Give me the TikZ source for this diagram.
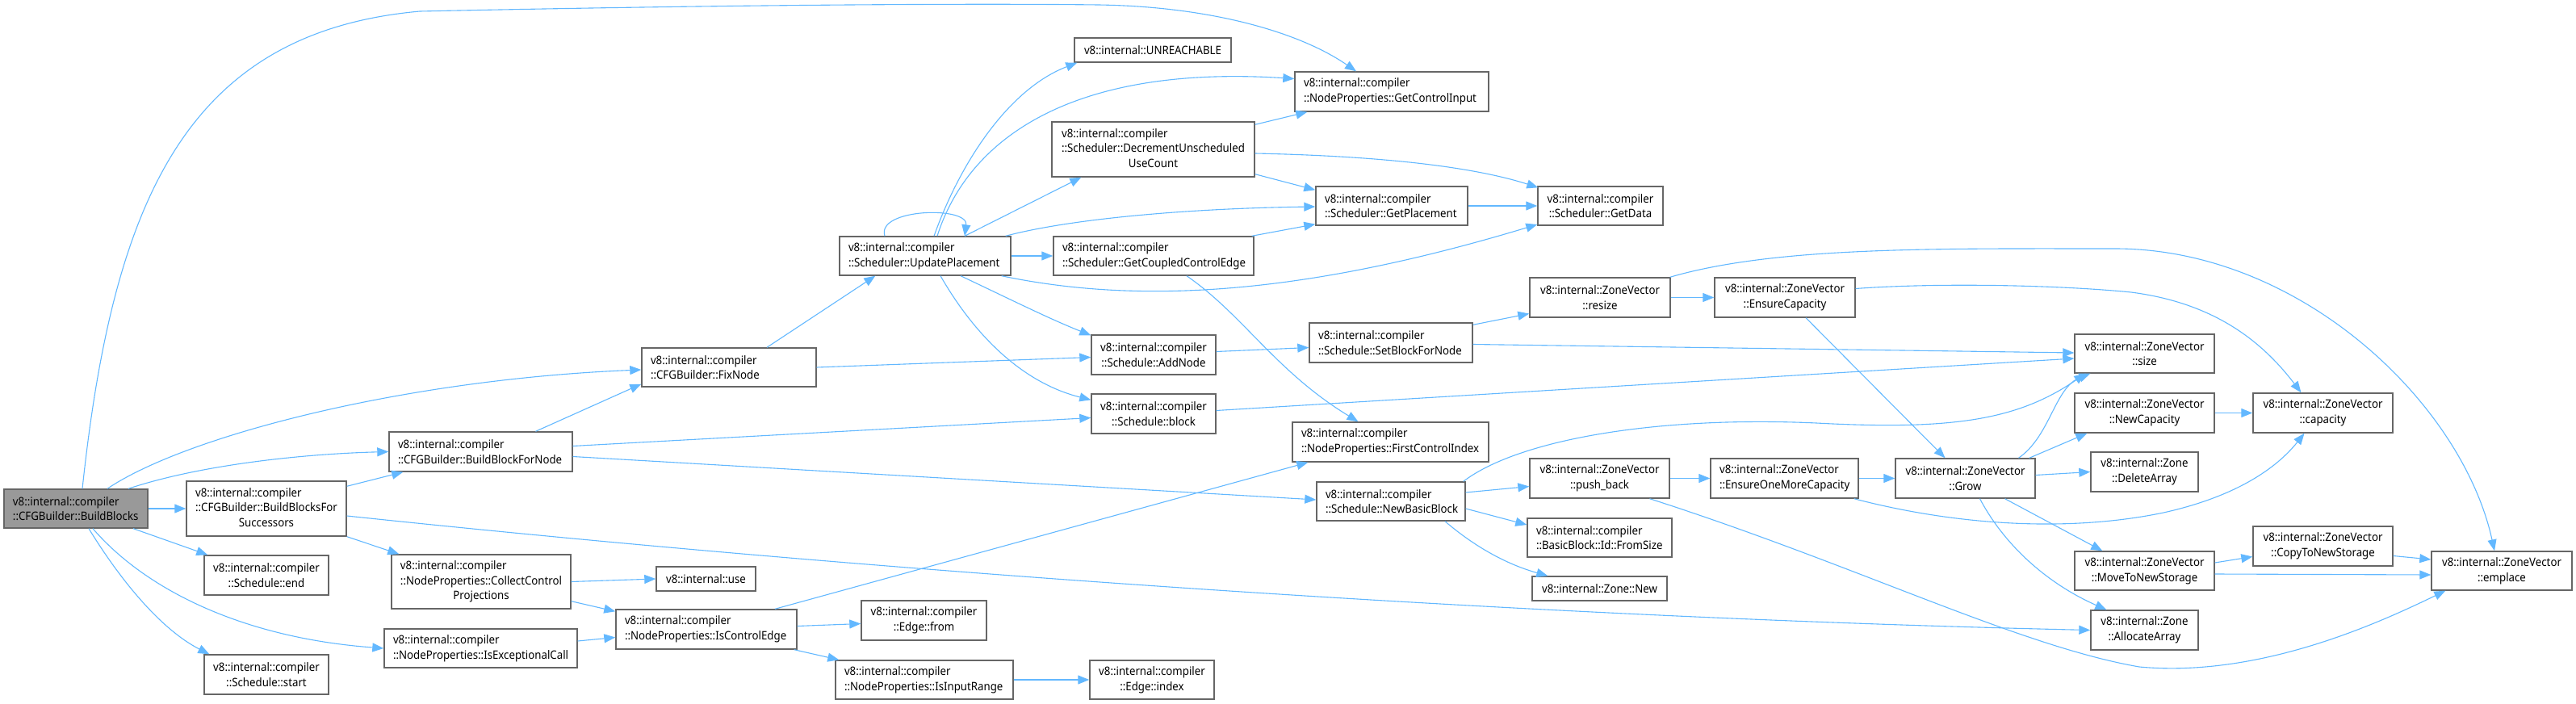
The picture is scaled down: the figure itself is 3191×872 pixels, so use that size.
\documentclass[tikz,border=0pt]{standalone}
\usepackage{fontspec}
\setmainfont{Noto Sans}[FakeStretch=0.92]
\usetikzlibrary{arrows.meta,calc}
\definecolor{callblue}{HTML}{63B8FF}
\definecolor{boxgray}{HTML}{666666}
\definecolor{rootgray}{HTML}{999999}

\begin{document}
\begin{tikzpicture}[x=0.5pt,y=-0.5pt]
        % Call graph style definitions
        \tikzset{
            fn/.style={draw=boxgray, line width=0.7pt, fill=white, inner sep=0pt,
                font=\fontsize{7.2}{9.3}\selectfont},
            fnl/.style={fn, align=left},
            fnc/.style={fn, align=center},
            root/.style={fnl, fill=rootgray},
            wh/.style 2 args={minimum width=#1*0.5pt, minimum height=#2*0.5pt, text width=#1*0.5pt-11pt},
            whx/.style 2 args={minimum width=#1*0.5pt, minimum height=#2*0.5pt},
            call/.style={draw=callblue, line width=0.55pt, -{Triangle[length=7pt,width=5.5pt]}}
        }
        \useasboundingbox (0,0) rectangle (3191,872);

        % ==========================================
        % CFGBuilder column
        % ==========================================
        \node[root, wh={178}{48}] (bb) at (94,630) {v8::internal::compiler\\::CFGBuilder::BuildBlocks};
        \node[fn, whx={198}{68}] (bbs) at (330,630) {\begin{tabular}{@{}l@{}}v8::internal::compiler\\::CFGBuilder::BuildBlocksFor\\\multicolumn{1}{@{}c@{}}{Successors}\end{tabular}};
        \node[fnc, wh={154}{49}] (send) at (330,712.5) {v8::internal::compiler\\::Schedule::end};
        \node[fnc, wh={154}{49}] (sstart) at (330,835.5) {v8::internal::compiler\\::Schedule::start};
        \node[fnl, wh={227}{49}] (bbn) at (595.5,559.5) {v8::internal::compiler\\::CFGBuilder::BuildBlockForNode};
        \node[fn, whx={222}{67}] (ccp) at (596,720.5) {\begin{tabular}{@{}l@{}}v8::internal::compiler\\::NodeProperties::CollectControl\\\multicolumn{1}{@{}c@{}}{Projections}\end{tabular}};
        \node[fnl, wh={239}{48}] (iec) at (595.5,803) {v8::internal::compiler\\::NodeProperties::IsExceptionalCall};
        \node[fnl, wh={216}{48}] (fix) at (903,455) {v8::internal::compiler\\::CFGBuilder::FixNode};

        % ==========================================
        % Scheduler / NodeProperties
        % ==========================================
        \node[fnl, wh={212}{48}] (up) at (1146,317) {v8::internal::compiler\\::Scheduler::UpdatePlacement};
        \node[fnc, wh={123}{30}] (use) at (874.5,717) {v8::internal::use};
        \node[fnl, wh={224}{49}] (ice) at (875,779.5) {v8::internal::compiler\\::NodeProperties::IsControlEdge};
        \node[fnc, wh={155}{49}] (efrom) at (1144.5,768.5) {v8::internal::compiler\\::Edge::from};
        \node[fnl, wh={220}{48}] (iir) at (1145,842) {v8::internal::compiler\\::NodeProperties::IsInputRange};
        \node[fnc, wh={154}{48}] (eidx) at (1427,842) {v8::internal::compiler\\::Edge::index};
        \node[fnc, wh={194}{30}] (unr) at (1428,62) {v8::internal::UNREACHABLE};
        \node[fn, whx={251}{68}] (dec) at (1428.5,185) {\begin{tabular}{@{}l@{}}v8::internal::compiler\\::Scheduler::DecrementUnscheduled\\\multicolumn{1}{@{}c@{}}{UseCount}\end{tabular}};
        \node[fnl, wh={248}{48}] (gcce) at (1429,317) {v8::internal::compiler\\::Scheduler::GetCoupledControlEdge};
        \node[fnc, wh={154}{49}] (add) at (1429,439.5) {v8::internal::compiler\\::Schedule::AddNode};
        \node[fnc, wh={154}{49}] (blk) at (1429,512.5) {v8::internal::compiler\\::Schedule::block};
        \node[fnl, wh={184}{48}] (nbb) at (1723,621) {v8::internal::compiler\\::Schedule::NewBasicBlock};
        \node[fnl, wh={240}{49}] (gci) at (1724,113.5) {v8::internal::compiler\\::NodeProperties::GetControlInput};
        \node[fnl, wh={188}{48}] (gp) at (1724,255) {v8::internal::compiler\\::Scheduler::GetPlacement};
        \node[fnl, wh={202}{49}] (sbfn) at (1723,424.5) {v8::internal::compiler\\::Schedule::SetBlockForNode};
        \node[fnl, wh={243}{49}] (fci) at (1722.5,547.5) {v8::internal::compiler\\::NodeProperties::FirstControlIndex};
        \node[fnc, wh={155}{48}] (gd) at (1982.5,255) {v8::internal::compiler\\::Scheduler::GetData};

        % ==========================================
        % ZoneVector / Zone
        % ==========================================
        \node[fnc, wh={174}{49}] (rsz) at (1982,368.5) {v8::internal::ZoneVector\\::resize};
        \node[fnc, wh={173}{49}] (pb) at (1981.5,592.5) {v8::internal::ZoneVector\\::push\_back};
        \node[fnl, wh={179}{48}] (fsz) at (1981.5,666) {v8::internal::compiler\\::BasicBlock::Id::FromSize};
        \node[fnc, wh={167}{30}] (znew) at (1981.5,729) {v8::internal::Zone::New};
        \node[fnc, wh={174}{49}] (ec) at (2211,368.5) {v8::internal::ZoneVector\\::EnsureCapacity};
        \node[fnl, wh={183}{49}] (eomc) at (2210.5,592.5) {v8::internal::ZoneVector\\::EnsureOneMoreCapacity};
        \node[fnc, wh={173}{49}] (grow) at (2434.5,592.5) {v8::internal::ZoneVector\\::Grow};
        \node[fnc, wh={173}{48}] (size) at (2656.5,438) {v8::internal::ZoneVector\\::size};
        \node[fnc, wh={173}{49}] (ncap) at (2656.5,511.5) {v8::internal::ZoneVector\\::NewCapacity};
        \node[fnc, wh={133}{49}] (del) at (2656.5,584.5) {v8::internal::Zone\\::DeleteArray};
        \node[fnc, wh={173}{48}] (mtns) at (2656.5,707) {v8::internal::ZoneVector\\::MoveToNewStorage};
        \node[fnc, wh={133}{49}] (alloc) at (2656.5,780.5) {v8::internal::Zone\\::AllocateArray};
        \node[fnc, wh={173}{49}] (cap) at (2877.5,511.5) {v8::internal::ZoneVector\\::capacity};
        \node[fnc, wh={173}{49}] (ctns) at (2877.5,676.5) {v8::internal::ZoneVector\\::CopyToNewStorage};
        \node[fnc, wh={174}{48}] (emp) at (3099,707) {v8::internal::ZoneVector\\::emplace};

        % ==========================================
        % Calls out of BuildBlocks
        % ==========================================
        \draw[call] ($(bb.north)+(8,0)$) .. controls (140,250) and (230,40) .. (520,14)
            .. controls (900,6) and (1200,4) .. (1360,6)
            .. controls (1500,8) and (1610,40) .. ($(gci.north)+(-44,0)$);
        \draw[call] ($(bb.north)+(39,0)$) .. controls (230,540) and (500,470) .. ($(fix.west)+(0,3)$);
        \draw[call] ($(bb.north)+(65,0)$) .. controls (250,575) and (380,562) .. (bbn.west);
        \draw[call] (bb.east) -- (bbs.west);
        \draw[call] ($(bb.south)+(71,0)$) -- ($(send.north west)+(5,0)$);
        \draw[call] ($(bb.south)+(21,0)$) .. controls (180,730) and (300,790) .. (iec.west);
        \draw[call] ($(bb.south)+(16,0)$) .. controls (150,720) and (200,780) .. ($(sstart.north west)+(7,0)$);

        % BuildBlocksForSuccessors, BuildBlockForNode, FixNode
        \draw[call] ($(bbs.north east)+(0,7)$) -- ($(bbn.south west)+(18,0)$);
        \draw[call] ($(bbs.east)+(0,9)$) .. controls (1100,710) and (1900,765) .. (alloc.west);
        \draw[call] (bbs.south east) -- ($(ccp.north west)+(10,0)$);
        \draw[call] ($(bbn.north)+(68,0)$) -- ($(fix.south west)+(0,-4)$);
        \draw[call] ($(bbn.east)+(0,-7)$) -- ($(blk.west)+(0,5)$);
        \draw[call] ($(bbn.east)+(0,6)$) -- ($(nbb.west)+(0,-2)$);
        \draw[call] ($(fix.north)+(47,0)$) -- ($(up.south west)+(45,0)$);
        \draw[call] (fix.east) -- ($(add.west)+(0,3)$);

        % UpdatePlacement
        \draw[call] ($(up.north)+(-50,0)$) .. controls (1085,258) and (1200,255) .. ($(up.north)+(49,0)$);
        \draw[call] ($(up.north)+(11,0)$) .. controls (1190,200) and (1250,110) .. ($(unr.south west)+(4,0)$);
        \draw[call] ($(up.north)+(15,0)$) .. controls (1200,170) and (1330,80) .. ($(gci.west)+(0,-16)$);
        \draw[call] ($(up.north)+(49,0)$) -- ($(dec.south west)+(37,0)$);
        \draw[call] (up.east) -- (gcce.west);
        \draw[call] ($(up.north east)+(-7,0)$) .. controls (1330,270) and (1480,258) .. ($(gp.west)+(0,1)$);
        \draw[call] ($(up.south east)+(-12,0)$) .. controls (1400,375) and (1600,370) .. ($(gd.west)+(0,23)$);
        \draw[call] ($(up.south)+(44,0)$) .. controls (1250,370) and (1300,395) .. ($(add.north west)+(0,1)$);
        \draw[call] ($(up.south)+(19,0)$) .. controls (1210,420) and (1270,475) .. ($(blk.north west)+(0,8)$);

        % Decrement, GetCoupledControlEdge, GetPlacement
        \draw[call] ($(dec.north east)+(0,4)$) -- ($(gci.south west)+(16,0)$);
        \draw[call] ($(dec.south east)+(0,-4)$) -- ($(gp.north west)+(0,5)$);
        \draw[call] ($(dec.east)+(0,5)$) .. controls (1700,193) and (1820,205) .. ($(gd.north west)+(1,2)$);
        \draw[call] ($(gcce.north east)+(-3,0)$) -- ($(gp.south west)+(0,-2)$);
        \draw[call] ($(gcce.south)+(41,0)$) .. controls (1540,390) and (1580,460) .. ($(fci.north)+(-40,0)$);
        \draw[call] (gp.east) -- (gd.west);

        % Schedule
        \draw[call] ($(add.east)+(0,-4)$) -- ($(sbfn.west)+(0,6)$);
        \draw[call] ($(blk.east)+(0,-4)$) -- ($(size.west)+(0,6)$);
        \draw[call] ($(sbfn.north east)+(0,3)$) -- ($(rsz.west)+(0,20)$);
        \draw[call] ($(sbfn.east)+(0,2)$) -- ($(size.west)+(0,-1)$);
        \draw[call] ($(nbb.north east)+(-3,0)$) .. controls (1880,545) and (2050,515) .. (2250,524)
            .. controls (2420,533) and (2500,520) .. ($(size.south west)+(14,0)$);
        \draw[call] ($(nbb.east)+(0,-11)$) -- ($(pb.west)+(0,10)$);
        \draw[call] ($(nbb.east)+(0,9)$) -- ($(fsz.west)+(0,-16)$);
        \draw[call] ($(nbb.south)+(67,0)$) .. controls (1830,680) and (1870,700) .. ($(znew.north west)+(20,0)$);

        % ZoneVector
        \draw[call] (rsz.east) -- (ec.west);
        \draw[call] ($(rsz.north east)+(-1,0)$) .. controls (2200,305) and (2400,308) .. (2620,308)
            .. controls (2850,308) and (3050,500) .. ($(emp.north)+(-9,0)$);
        \draw[call] ($(ec.east)+(0,-11)$) .. controls (2400,350) and (2550,353) .. (2640,362)
            .. controls (2740,375) and (2800,420) .. ($(cap.north)+(-27,0)$);
        \draw[call] ($(ec.south)+(26,0)$) -- ($(grow.north)+(-25,0)$);
        \draw[call] (pb.east) -- (eomc.west);
        \draw[call] ($(pb.south)+(62,0)$) .. controls (2300,700) and (2500,800) .. (2650,826)
            .. controls (2800,840) and (2950,770) .. ($(emp.south west)+(18,0)$);
        \draw[call] (eomc.east) -- (grow.west);
        \draw[call] ($(eomc.south east)+(-6,0)$) .. controls (2420,650) and (2560,660) .. (2680,635)
            .. controls (2770,615) and (2820,580) .. ($(cap.south)+(-23,0)$);
        \draw[call] ($(grow.north)+(66,0)$) .. controls (2540,540) and (2545,480) .. ($(size.south west)+(20,0)$);
        \draw[call] ($(grow.north east)+(-8,0)$) -- ($(ncap.south west)+(16,0)$);
        \draw[call] ($(grow.east)+(0,-4)$) -- (del.west);
        \draw[call] ($(grow.south)+(49,0)$) -- ($(mtns.north west)+(35,0)$);
        \draw[call] ($(grow.south)+(18,0)$) .. controls (2480,670) and (2530,720) .. ($(alloc.north west)+(20,0)$);
        \draw[call] (ncap.east) -- (cap.west);
        \draw[call] ($(mtns.east)+(0,-10)$) -- ($(ctns.west)+(0,13)$);
        \draw[call] ($(mtns.east)+(0,4)$) -- ($(emp.west)+(0,5)$);
        \draw[call] ($(ctns.east)+(0,12)$) -- ($(emp.west)+(0,-14)$);

        % NodeProperties
        \draw[call] (ccp.east) -- (use.west);
        \draw[call] ($(ccp.south east)+(0,-10)$) -- ($(ice.north west)+(0,3)$);
        \draw[call] ($(iec.east)+(0,-9)$) -- ($(ice.west)+(0,10)$);
        \draw[call] ($(ice.north)+(85,0)$) -- ($(fci.south west)+(20,0)$);
        \draw[call] ($(ice.east)+(0,-4)$) -- ($(efrom.west)+(0,4)$);
        \draw[call] ($(ice.south east)+(-4,0)$) -- ($(iir.north west)+(5,0)$);
        \draw[call] (iir.east) -- (eidx.west);

    \end{tikzpicture}
\end{document}
